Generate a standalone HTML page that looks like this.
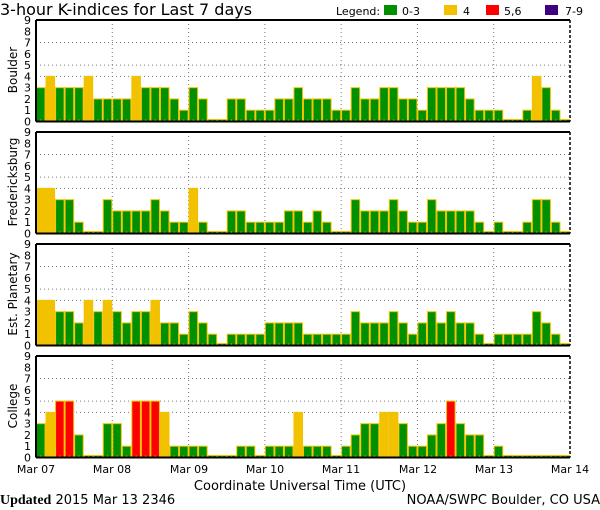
<!DOCTYPE html>
<html><head><meta charset="utf-8"><style>
html,body{margin:0;padding:0;background:#fff;}
svg{display:block;font-family:"DejaVu Sans","Liberation Sans",sans-serif;}
</style></head><body>
<svg id="s" width="600" height="510" viewBox="0 0 600 510" xmlns="http://www.w3.org/2000/svg">
<rect width="600" height="510" fill="#fff"/>
<text x="0" y="15" font-size="16" fill="#000">3-hour K-indices for Last 7 days</text>
<text x="336" y="15" font-size="11" fill="#000">Legend:</text>
<rect x="384" y="5" width="13" height="10" fill="#009000"/><text x="402" y="15" font-size="11">0-3</text>
<rect x="444" y="5" width="13" height="10" fill="#f2c200"/><text x="463" y="15" font-size="11">4</text>
<rect x="486" y="5" width="13" height="10" fill="#ff0000"/><text x="504" y="15" font-size="11">5,6</text>
<rect x="545" y="5" width="13" height="10" fill="#400080"/><text x="565" y="15" font-size="11">7-9</text>
<g id="bars"></g>
<text transform="translate(17,70) rotate(-90)" text-anchor="middle" font-size="12">Boulder</text>
<text transform="translate(17,182) rotate(-90)" text-anchor="middle" font-size="12">Fredericksburg</text>
<text transform="translate(17,294) rotate(-90)" text-anchor="middle" font-size="12">Est. Planetary</text>
<text transform="translate(17,406) rotate(-90)" text-anchor="middle" font-size="12">College</text>
<g font-size="11" text-anchor="middle">
<text x="36" y="473">Mar 07</text><text x="112" y="473">Mar 08</text><text x="189" y="473">Mar 09</text><text x="265" y="473">Mar 10</text><text x="341" y="473">Mar 11</text><text x="418" y="473">Mar 12</text><text x="494" y="473">Mar 13</text><text x="570" y="473">Mar 14</text>
</g>
<text x="300" y="490" font-size="13" text-anchor="middle">Coordinate Universal Time (UTC)</text>
<text x="0" y="504" font-size="13"><tspan font-weight="bold" font-family="Liberation Serif,serif" font-size="14">Updated</tspan> 2015 Mar 13 2346</text>
<text x="600" y="504" font-size="13" text-anchor="end">NOAA/SWPC Boulder, CO USA</text>
</svg>
<script>
var D=[
[3,4,3,3,3,4,2,2,2,2,4,3,3,3,2,1,3,2,0,0,2,2,1,1,1,2,2,3, 2,2,2,1,1,3,2,2,3,3,2,2,1,3,3,3,3,2,1,1,1,0,0,1,4,3,1,0],
[4,4,3,3,1,0,0,3,2,2,2,2,3,2,1,1,4,1,0,0,2,2,1,1,1,1,2,2, 1,2,1,0,0,3,2,2,2,3,2,1,1,3,2,2,2,2,1,0,1,0,0,1,3,3,1,0],
[4,4,3,3,2,4,3,4,3,2,3,3,4,2,2,1,3,2,1,0,1,1,1,1,2,2,2,2, 1,1,1,1,1,3,2,2,2,3,2,1,2,3,2,3,2,2,1,0,1,1,1,1,3,2,1,0],
[3,4,5,5,2,0,0,3,3,1,5,5,5,4,1,1,1,1,0,0,0,1,1,0,1,1,1,4, 1,1,1,0,1,2,3,3,4,4,3,1,1,2,3,5,3,2,2,0,1,0,0,0,0,0,0,0]];
var tops=[20,132,244,356],H=101.5,L=36,R=570,bw=(R-L)/56,u=H/9;
var g='';
function col(v){return v<=3?'#009000':v==4?'#f2c200':v<=6?'#ff0000':'#400080';}
for(var p=0;p<4;p++){
 var t=tops[p],b=t+H;
 [4,5,7].forEach(function(k){var y=b-k*u;g+='<line x1="'+L+'" y1="'+y+'" x2="'+R+'" y2="'+y+'" stroke="#777" stroke-dasharray="1,3"/>';});
 for(var d=1;d<7;d++){var x=L+d*8*bw;g+='<line x1="'+x+'" y1="'+t+'" x2="'+x+'" y2="'+b+'" stroke="#777" stroke-dasharray="1,3"/>';}
 for(var i=0;i<56;i++){var v=D[p][i],x=L+i*bw,h=v==0?2:v*u;
  g+='<rect x="'+(x+0.5)+'" y="'+(b-h)+'" width="'+(bw-1)+'" height="'+h+'" fill="'+col(v)+'" stroke="#f2c200" stroke-width="1"/>';
  g+='<rect x="'+(x+bw/2-0.5)+'" y="'+(b-2)+'" width="1" height="2" fill="#f2c200"/>';}
 for(var k=0;k<=9;k++){g+='<text x="31" y="'+(b-k*u+4)+'" font-size="11" text-anchor="end">'+k+'</text>';}
 g+='<line x1="'+L+'" y1="'+t+'" x2="'+R+'" y2="'+t+'" stroke="#000" stroke-width="2"/>';
 g+='<line x1="'+L+'" y1="'+b+'" x2="'+R+'" y2="'+b+'" stroke="#000" stroke-width="2"/>';
 g+='<line x1="'+L+'" y1="'+t+'" x2="'+L+'" y2="'+b+'" stroke="#000" stroke-width="2"/>';
 g+='<line x1="'+R+'" y1="'+t+'" x2="'+R+'" y2="'+b+'" stroke="#000" stroke-width="1.5" stroke-dasharray="3,2"/>';
}
document.getElementById('bars').innerHTML=g;
</script>
</body></html>
